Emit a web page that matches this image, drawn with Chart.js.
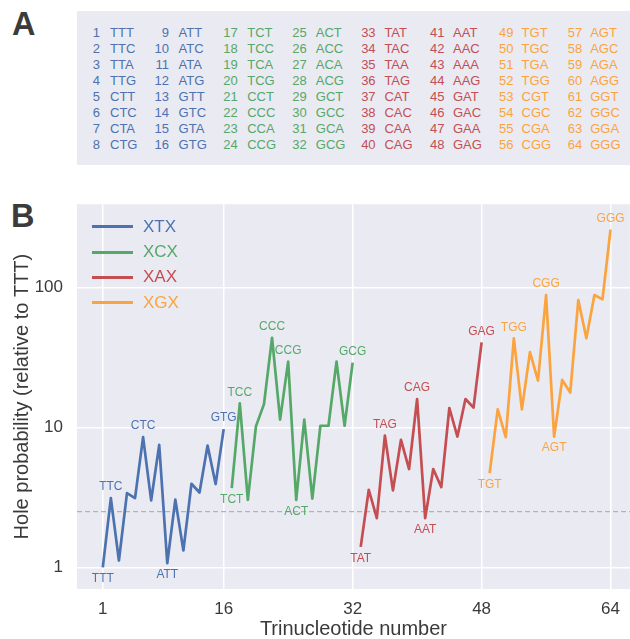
<!DOCTYPE html>
<html>
<head>
<meta charset="utf-8">
<script src="https://cdn.jsdelivr.net/npm/chart.js@4.4.1/dist/chart.umd.min.js"></script>
<style>
  body { margin: 0; background: #fff; font-family: "Liberation Sans", Arial, sans-serif; }
  #page { position: relative; width: 630px; height: 639px; overflow: hidden; }
  .letter { position: absolute; font-weight: bold; font-size: 32.5px; line-height: 1; color: #3b3b3b; }
  #tableA { position: absolute; left: 77px; top: 11px; width: 553px; height: 154px; background: #EAEAF2; }
  .cell { position: absolute; font-size: 13px; line-height: 16px; white-space: nowrap; }
  .sw { position: absolute; height: 3px; width: 41px; left: 92px; }
  .lg { position: absolute; left: 143px; font-size: 17px; line-height: 20px; }
  #chartB { position: absolute; left: 0; top: 180px; }
</style>
</head>
<body>
<div id="page">
  <div class="letter" style="left:12px; top:8px;">A</div>
  <div id="tableA"></div>
  <div class="letter" style="left:11px; top:200px;">B</div>
  <canvas id="chartB" width="630" height="459"></canvas>
</div>
<script>
// trinucleotides, numbered 1..64
const names = [
  "TTT","TTC","TTA","TTG","CTT","CTC","CTA","CTG","ATT","ATC","ATA","ATG","GTT","GTC","GTA","GTG",
  "TCT","TCC","TCA","TCG","CCT","CCC","CCA","CCG","ACT","ACC","ACA","ACG","GCT","GCC","GCA","GCG",
  "TAT","TAC","TAA","TAG","CAT","CAC","CAA","CAG","AAT","AAC","AAA","AAG","GAT","GAC","GAA","GAG",
  "TGT","TGC","TGA","TGG","CGT","CGC","CGA","CGG","AGT","AGC","AGA","AGG","GGT","GGC","GGA","GGG"
];

const seriesLabels = ["XTX", "XCX", "XAX", "XGX"];
const seriesColors = ["#4C72B0", "#55A868", "#C44E52", "#FBA43F"];

// hole probability relative to TTT
const xtx = [1.00, 3.13, 1.12, 3.40, 3.13, 8.54, 3.01, 7.52, 1.07, 3.05, 1.32, 3.96, 3.43, 7.43, 3.94, 9.74];
const xcx = [3.69, 14.9, 3.04, 10.2, 14.7, 43.9, 11.4, 29.6, 3.04, 11.4, 3.10, 10.3, 10.3, 29.6, 10.3, 29.1];
const xax = [1.40, 3.59, 2.25, 8.77, 3.55, 8.17, 5.05, 16.0, 2.25, 5.05, 3.75, 13.8, 8.62, 16.0, 13.9, 40.7];
const xgx = [4.72, 13.5, 8.54, 43.5, 13.5, 34.6, 21.7, 88.7, 8.62, 21.9, 17.8, 81.7, 43.5, 88.7, 82.6, 261];

const xTicks = [1, 16, 32, 48, 64];
const yTicks = [1, 10, 100];
const threshold = 2.5;

// which points get a name, and on which side
const labelsAbove = ["TTC","CTC","GTG","TCC","CCC","CCG","GCG","TAG","CAG","GAG","TGG","CGG","GGG"];
const labelsBelow = ["TTT","ATT","TCT","ACT","TAT","AAT","TGT","AGT"];

/* ---------- panel A : numbered table ---------- */
const page = document.getElementById("page");
for (let i = 0; i < names.length; i++) {
    const col = Math.floor(i / 8), row = i % 8;
    const color = seriesColors[Math.floor(col / 2)];
    const cy = 33.3 + 16 * row;
    const numRight = 100 + 68.9 * col;
    const num = document.createElement("span");
    num.className = "cell";
    num.textContent = i + 1;
    num.style.cssText += "left:" + (numRight - 40) + "px;width:40px;text-align:right;top:" + (cy - 8) + "px;color:" + color;
    page.appendChild(num);
    const nm = document.createElement("span");
    nm.className = "cell";
    nm.textContent = names[i];
    nm.style.cssText += "left:" + (110 + 68.6 * col) + "px;top:" + (cy - 8) + "px;color:" + color;
    page.appendChild(nm);
}

/* ---------- legend ---------- */
seriesLabels.forEach(function (lab, k) {
    const cy = 226.7 + 25.3 * k;
    const sw = document.createElement("div");
    sw.className = "sw";
    sw.style.top = (cy - 1.5) + "px";
    sw.style.background = seriesColors[k];
    page.appendChild(sw);
    const t = document.createElement("div");
    t.className = "lg";
    t.textContent = lab;
    t.style.top = (cy - 10) + "px";
    t.style.color = seriesColors[k];
    page.appendChild(t);
});

/* ---------- panel B ---------- */
const allSeries = [xtx, xcx, xax, xgx];
const datasets = allSeries.map(function (vals, k) {
    return {
        label: seriesLabels[k],
        data: vals.map(function (v, i) { return { x: k * 16 + i + 1, y: v, name: names[k * 16 + i] }; }),
        borderColor: seriesColors[k],
        backgroundColor: seriesColors[k],
        borderWidth: 2.7,
        pointRadius: 0,
        tension: 0,
        borderJoinStyle: "round",
        borderCapStyle: "butt"
    };
});

const bgPlugin = {
    id: "bg",
    beforeDraw(chart) {
        const a = chart.chartArea, c = chart.ctx;
        c.save();
        c.fillStyle = "#EAEAF2";
        c.fillRect(a.left, a.top, a.right - a.left, a.bottom - a.top);
        c.restore();
    },
    beforeDatasetsDraw(chart) {
        const a = chart.chartArea, c = chart.ctx;
        const y = chart.scales.y.getPixelForValue(threshold);
        c.save();
        c.strokeStyle = "#b3b3b3";
        c.lineWidth = 1.3;
        c.setLineDash([5, 3]);
        c.beginPath();
        c.moveTo(a.left, y);
        c.lineTo(a.right, y);
        c.stroke();
        c.restore();
    }
};

const namePlugin = {
    id: "names",
    afterDatasetsDraw(chart) {
        const c = chart.ctx, xs = chart.scales.x, ys = chart.scales.y;
        c.save();
        c.font = "12px 'Liberation Sans', Arial, sans-serif";
        c.textAlign = "center";
        c.textBaseline = "middle";
        chart.data.datasets.forEach(function (ds) {
            ds.data.forEach(function (p) {
                let dy = 0;
                if (labelsAbove.includes(p.name)) dy = -11;
                else if (labelsBelow.includes(p.name)) dy = 11.5;
                else return;
                c.fillStyle = ds.borderColor;
                c.fillText(p.name, xs.getPixelForValue(p.x), ys.getPixelForValue(p.y) + dy);
            });
        });
        c.restore();
    }
};

new Chart(document.getElementById("chartB").getContext("2d"), {
    type: "line",
    data: { datasets: datasets },
    options: {
        responsive: false,
        animation: false,
        layout: { padding: { top: 24, right: 0, bottom: 0, left: 0 } },
        plugins: { legend: { display: false }, tooltip: { enabled: false } },
        scales: {
            x: {
                type: "linear",
                min: -2.2,
                max: 66.4,
                afterBuildTicks: function (s) { s.ticks = xTicks.map(function (v) { return { value: v }; }); },
                afterFit: function (s) { s.height = 50; },
                grid: { color: "#ffffff", lineWidth: 1.5, drawTicks: false },
                border: { display: false },
                ticks: { padding: 10, color: "#3a3a3a", font: { size: 17, family: "'Liberation Sans', Arial" } },
                title: { display: true, text: "Trinucleotide number", color: "#3a3a3a", padding: 0,
                         font: { size: 20, lineHeight: 1, family: "'Liberation Sans', Arial" } }
            },
            y: {
                type: "logarithmic",
                min: 0.70,
                max: 396,
                afterBuildTicks: function (s) { s.ticks = yTicks.map(function (v) { return { value: v }; }); },
                afterFit: function (s) { s.width = 77; },
                grid: { color: "#ffffff", lineWidth: 1.5, drawTicks: false },
                border: { display: false },
                ticks: { padding: 14, color: "#3a3a3a", font: { size: 17, family: "'Liberation Sans', Arial" },
                         callback: function (v) { return String(v); } },
                title: { display: true, text: "Hole probability (relative to TTT)", color: "#3a3a3a",
                         padding: { top: 12.5, bottom: 0 },
                         font: { size: 20, lineHeight: 1, family: "'Liberation Sans', Arial" } }
            }
        }
    },
    plugins: [bgPlugin, namePlugin]
});
</script>
</body>
</html>
